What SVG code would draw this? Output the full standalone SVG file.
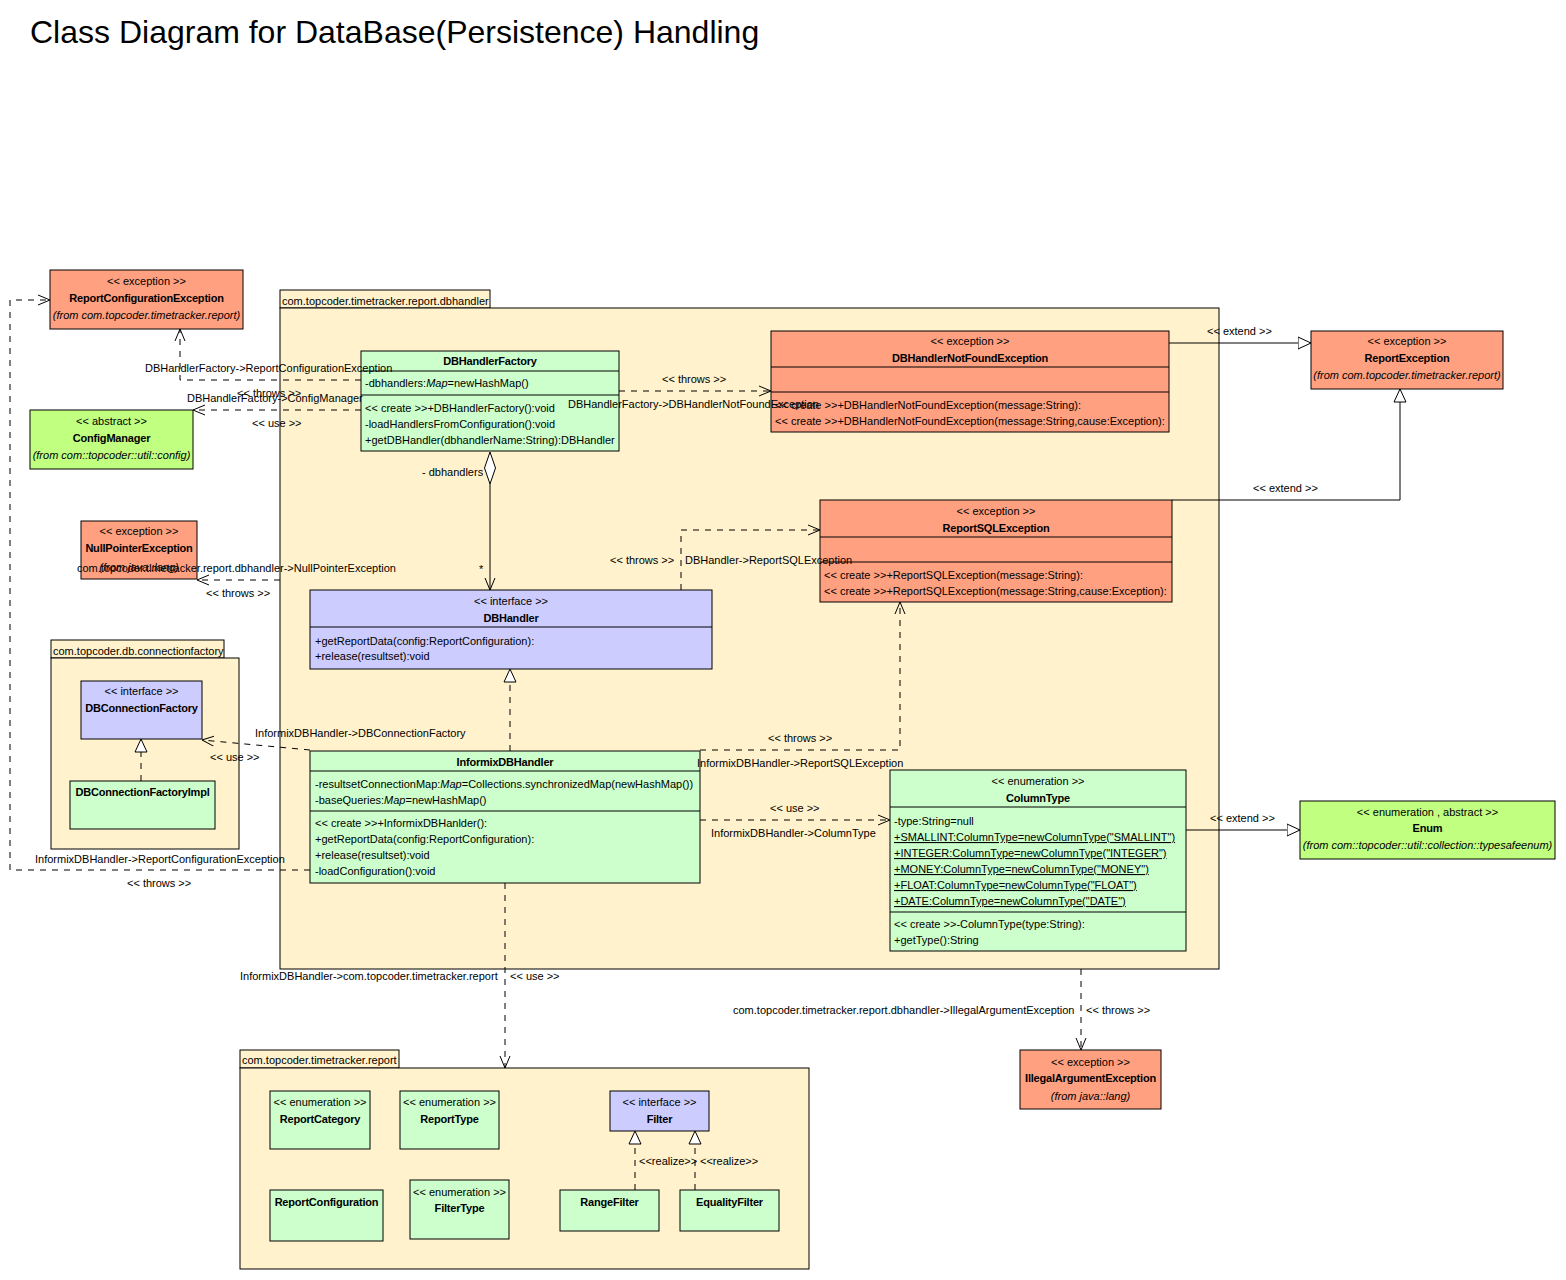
<svg xmlns="http://www.w3.org/2000/svg" width="1566" height="1280" viewBox="0 0 1566 1280">
<style>
text{font-family:"Liberation Sans",Arial,sans-serif;font-size:11px;fill:#000}
.t{font-size:32px}
.c{text-anchor:middle}
.b{font-weight:bold;letter-spacing:-0.2px}
.i{font-style:italic}
.u{text-decoration:underline}
.box{stroke:#000;stroke-width:1}
.exc{fill:#FFA080}
.abs{fill:#C0FF80}
.cls{fill:#CCFFCC}
.itf{fill:#CCCCFF}
.pkg{fill:#FFF2CC;stroke:#000;stroke-width:1}
.sep{stroke:#000;stroke-width:1}
.dep{fill:none;stroke:#000;stroke-width:1;stroke-dasharray:6,6;marker-end:url(#open)}
.rel{fill:none;stroke:#000;stroke-width:1;stroke-dasharray:6,6;marker-end:url(#tri)}
.gen{fill:none;stroke:#000;stroke-width:1;marker-end:url(#tri)}
.asc{fill:none;stroke:#000;stroke-width:1;marker-end:url(#open)}
</style>
<defs>
<marker id="open" viewBox="0 0 12 12" refX="12" refY="6" markerWidth="12" markerHeight="12" markerUnits="userSpaceOnUse" orient="auto"><path d="M0,1 L12,6 L0,11" fill="none" stroke="#000" stroke-width="1" stroke-dasharray="none"/></marker>
<marker id="tri" viewBox="0 0 14 14" refX="13.5" refY="7" markerWidth="14" markerHeight="14" markerUnits="userSpaceOnUse" orient="auto"><path d="M0.5,1 L13.5,7 L0.5,13 Z" fill="#fff" stroke="#000" stroke-width="1" stroke-dasharray="none"/></marker>
</defs>
<rect width="1566" height="1280" fill="#fff"/>
<text class="t" x="30" y="43">Class Diagram for DataBase(Persistence) Handling</text>

<g id="pkg-dbhandler">
<rect class="pkg" x="280" y="290" width="210" height="18"/>
<rect class="pkg" x="280" y="308" width="939" height="661"/>
<text x="282" y="305">com.topcoder.timetracker.report.dbhandler</text>
</g>
<g id="pkg-connectionfactory">
<rect class="pkg" x="51" y="640" width="173" height="18"/>
<rect class="pkg" x="51" y="658" width="188" height="191"/>
<text x="53" y="655">com.topcoder.db.connectionfactory</text>
</g>
<g id="pkg-report">
<rect class="pkg" x="240" y="1050" width="159" height="18"/>
<rect class="pkg" x="240" y="1068" width="569" height="201"/>
<text x="242" y="1064">com.topcoder.timetracker.report</text>
</g>

<g id="ReportConfigurationException">
<rect class="box exc" x="50" y="270" width="193" height="59"/>
<text class="c" x="146.5" y="285">&lt;&lt; exception &gt;&gt;</text>
<text class="c b" x="146.5" y="302">ReportConfigurationException</text>
<text class="c i" x="146.5" y="319">(from com.topcoder.timetracker.report)</text>
</g>
<g id="ConfigManager">
<rect class="box abs" x="30" y="410" width="163" height="59"/>
<text class="c" x="111.5" y="425">&lt;&lt; abstract &gt;&gt;</text>
<text class="c b" x="111.5" y="442">ConfigManager</text>
<text class="c i" x="111.5" y="459">(from com::topcoder::util::config)</text>
</g>
<g id="DBHandlerFactory">
<rect class="box cls" x="361" y="351" width="258" height="100"/>
<line class="sep" x1="361" y1="371" x2="619" y2="371"/>
<line class="sep" x1="361" y1="395" x2="619" y2="395"/>
<text class="c b" x="490" y="365">DBHandlerFactory</text>
<text x="365" y="387">-dbhandlers:<tspan class="i">Map</tspan>=newHashMap()</text>
<text x="365" y="412">&lt;&lt; create &gt;&gt;+DBHandlerFactory():void</text>
<text x="365" y="428">-loadHandlersFromConfiguration():void</text>
<text x="365" y="444">+getDBHandler(dbhandlerName:String):DBHandler</text>
</g>
<g id="DBHandlerNotFoundException">
<rect class="box exc" x="771" y="331" width="398" height="101"/>
<line class="sep" x1="771" y1="367" x2="1169" y2="367"/>
<line class="sep" x1="771" y1="392" x2="1169" y2="392"/>
<text class="c" x="970" y="345">&lt;&lt; exception &gt;&gt;</text>
<text class="c b" x="970" y="362">DBHandlerNotFoundException</text>
<text x="775" y="409">&lt;&lt; create &gt;&gt;+DBHandlerNotFoundException(message:String):</text>
<text x="775" y="425">&lt;&lt; create &gt;&gt;+DBHandlerNotFoundException(message:String,cause:Exception):</text>
</g>
<g id="ReportException">
<rect class="box exc" x="1311" y="331" width="192" height="58"/>
<text class="c" x="1407" y="345">&lt;&lt; exception &gt;&gt;</text>
<text class="c b" x="1407" y="362">ReportException</text>
<text class="c i" x="1407" y="379">(from com.topcoder.timetracker.report)</text>
</g>
<g id="ReportSQLException">
<rect class="box exc" x="820" y="500" width="352" height="102"/>
<line class="sep" x1="820" y1="537" x2="1172" y2="537"/>
<line class="sep" x1="820" y1="562" x2="1172" y2="562"/>
<text class="c" x="996" y="515">&lt;&lt; exception &gt;&gt;</text>
<text class="c b" x="996" y="532">ReportSQLException</text>
<text x="824" y="579">&lt;&lt; create &gt;&gt;+ReportSQLException(message:String):</text>
<text x="824" y="595">&lt;&lt; create &gt;&gt;+ReportSQLException(message:String,cause:Exception):</text>
</g>
<g id="NullPointerException">
<rect class="box exc" x="81" y="521" width="116" height="58"/>
<text class="c" x="139" y="535">&lt;&lt; exception &gt;&gt;</text>
<text class="c b" x="139" y="552">NullPointerException</text>
<text class="c i" x="139" y="571">(from java::lang)</text>
</g>
<g id="DBHandler">
<rect class="box itf" x="310" y="590" width="402" height="79"/>
<line class="sep" x1="310" y1="627" x2="712" y2="627"/>
<text class="c" x="511" y="605">&lt;&lt; interface &gt;&gt;</text>
<text class="c b" x="511" y="622">DBHandler</text>
<text x="315" y="645">+getReportData(config:ReportConfiguration):</text>
<text x="315" y="660">+release(resultset):void</text>
</g>
<g id="DBConnectionFactory">
<rect class="box itf" x="81" y="681" width="121" height="58"/>
<text class="c" x="141.5" y="695">&lt;&lt; interface &gt;&gt;</text>
<text class="c b" x="141.5" y="712">DBConnectionFactory</text>
</g>
<g id="DBConnectionFactoryImpl">
<rect class="box cls" x="70" y="781" width="145" height="48"/>
<text class="c b" x="142.5" y="796">DBConnectionFactoryImpl</text>
</g>
<g id="InformixDBHandler">
<rect class="box cls" x="310" y="751" width="390" height="132"/>
<line class="sep" x1="310" y1="771" x2="700" y2="771"/>
<line class="sep" x1="310" y1="811" x2="700" y2="811"/>
<text class="c b" x="505" y="766">InformixDBHandler</text>
<text x="315" y="788">-resultsetConnectionMap:<tspan class="i">Map</tspan>=Collections.synchronizedMap(newHashMap())</text>
<text x="315" y="804">-baseQueries:<tspan class="i">Map</tspan>=newHashMap()</text>
<text x="315" y="827">&lt;&lt; create &gt;&gt;+InformixDBHanlder():</text>
<text x="315" y="843">+getReportData(config:ReportConfiguration):</text>
<text x="315" y="859">+release(resultset):void</text>
<text x="315" y="875">-loadConfiguration():void</text>
</g>
<g id="ColumnType">
<rect class="box cls" x="890" y="770" width="296" height="181"/>
<line class="sep" x1="890" y1="807" x2="1186" y2="807"/>
<line class="sep" x1="890" y1="912" x2="1186" y2="912"/>
<text class="c" x="1038" y="785">&lt;&lt; enumeration &gt;&gt;</text>
<text class="c b" x="1038" y="802">ColumnType</text>
<text x="894" y="825">-type:String=null</text>
<text class="u" x="894" y="841">+SMALLINT:ColumnType=newColumnType("SMALLINT")</text>
<text class="u" x="894" y="857">+INTEGER:ColumnType=newColumnType("INTEGER")</text>
<text class="u" x="894" y="873">+MONEY:ColumnType=newColumnType("MONEY")</text>
<text class="u" x="894" y="889">+FLOAT:ColumnType=newColumnType("FLOAT")</text>
<text class="u" x="894" y="905">+DATE:ColumnType=newColumnType("DATE")</text>
<text x="894" y="928">&lt;&lt; create &gt;&gt;-ColumnType(type:String):</text>
<text x="894" y="944">+getType():String</text>
</g>
<g id="Enum">
<rect class="box abs" x="1300" y="801" width="255" height="58"/>
<text class="c" x="1427.5" y="816">&lt;&lt; enumeration , abstract &gt;&gt;</text>
<text class="c b" x="1427.5" y="832">Enum</text>
<text class="c i" x="1427.5" y="849">(from com::topcoder::util::collection::typesafeenum)</text>
</g>
<g id="IllegalArgumentException">
<rect class="box exc" x="1020" y="1050" width="141" height="59"/>
<text class="c" x="1090.5" y="1066">&lt;&lt; exception &gt;&gt;</text>
<text class="c b" x="1090.5" y="1082">IllegalArgumentException</text>
<text class="c i" x="1090.5" y="1100">(from java::lang)</text>
</g>
<g id="ReportCategory">
<rect class="box cls" x="270" y="1091" width="100" height="58"/>
<text class="c" x="320" y="1106">&lt;&lt; enumeration &gt;&gt;</text>
<text class="c b" x="320" y="1123">ReportCategory</text>
</g>
<g id="ReportType">
<rect class="box cls" x="400" y="1091" width="99" height="58"/>
<text class="c" x="449.5" y="1106">&lt;&lt; enumeration &gt;&gt;</text>
<text class="c b" x="449.5" y="1123">ReportType</text>
</g>
<g id="Filter">
<rect class="box itf" x="610" y="1091" width="99" height="40"/>
<text class="c" x="659.5" y="1106">&lt;&lt; interface &gt;&gt;</text>
<text class="c b" x="659.5" y="1123">Filter</text>
</g>
<g id="ReportConfiguration">
<rect class="box cls" x="270" y="1190" width="113" height="51"/>
<text class="c b" x="326.5" y="1206">ReportConfiguration</text>
</g>
<g id="FilterType">
<rect class="box cls" x="410" y="1180" width="99" height="59"/>
<text class="c" x="459.5" y="1196">&lt;&lt; enumeration &gt;&gt;</text>
<text class="c b" x="459.5" y="1212">FilterType</text>
</g>
<g id="RangeFilter">
<rect class="box cls" x="560" y="1190" width="99" height="41"/>
<text class="c b" x="609.5" y="1206">RangeFilter</text>
</g>
<g id="EqualityFilter">
<rect class="box cls" x="680" y="1190" width="99" height="41"/>
<text class="c b" x="729.5" y="1206">EqualityFilter</text>
</g>

<g id="connectors">
<path class="dep" d="M361,380 H180 V329"/>
<text x="145" y="372">DBHandlerFactory-&gt;ReportConfigurationException</text>
<text x="237" y="397">&lt;&lt; throws &gt;&gt;</text>
<path class="dep" d="M361,410 H193"/>
<text x="187" y="402">DBHandlerFactory-&gt;ConfigManager</text>
<text x="252" y="427">&lt;&lt; use &gt;&gt;</text>
<path class="dep" d="M619,391 H771"/>
<text x="662" y="383">&lt;&lt; throws &gt;&gt;</text>
<text x="568" y="408">DBHandlerFactory-&gt;DBHandlerNotFoundException</text>
<polygon points="490,452 495.5,468 490,484 484.5,468" fill="#fff" stroke="#000"/>
<path class="asc" d="M490,484 V590"/>
<text x="422" y="476">- dbhandlers</text>
<text x="479" y="573">*</text>
<path class="gen" d="M1169,343 H1311"/>
<text x="1207" y="335">&lt;&lt; extend &gt;&gt;</text>
<path class="gen" d="M1172,500 H1400 V389"/>
<text x="1253" y="492">&lt;&lt; extend &gt;&gt;</text>
<path class="dep" d="M681,590 V530 H820"/>
<text x="610" y="564">&lt;&lt; throws &gt;&gt;</text>
<text x="685" y="564">DBHandler-&gt;ReportSQLException</text>
<path class="dep" d="M280,580 H197"/>
<text x="77" y="572">com.topcoder.timetracker.report.dbhandler-&gt;NullPointerException</text>
<text x="206" y="597">&lt;&lt; throws &gt;&gt;</text>
<path class="dep" d="M310,750 L202,740"/>
<text x="255" y="737">InformixDBHandler-&gt;DBConnectionFactory</text>
<text x="210" y="761">&lt;&lt; use &gt;&gt;</text>
<path class="dep" d="M310,870 H10 V300 H50"/>
<text x="35" y="863">InformixDBHandler-&gt;ReportConfigurationException</text>
<text x="127" y="887">&lt;&lt; throws &gt;&gt;</text>
<path class="rel" d="M510,751 V669"/>
<path class="dep" d="M700,750 H900 V602"/>
<text x="768" y="742">&lt;&lt; throws &gt;&gt;</text>
<text x="697" y="767">InformixDBHandler-&gt;ReportSQLException</text>
<path class="dep" d="M700,820 H890"/>
<text x="770" y="812">&lt;&lt; use &gt;&gt;</text>
<text x="711" y="837">InformixDBHandler-&gt;ColumnType</text>
<path class="dep" d="M505,883 V1068"/>
<text x="240" y="980">InformixDBHandler-&gt;com.topcoder.timetracker.report</text>
<text x="510" y="980">&lt;&lt; use &gt;&gt;</text>
<path class="gen" d="M1186,830 H1300"/>
<text x="1210" y="822">&lt;&lt; extend &gt;&gt;</text>
<path class="dep" d="M1081,969 V1050"/>
<text x="733" y="1014">com.topcoder.timetracker.report.dbhandler-&gt;IllegalArgumentException</text>
<text x="1086" y="1014">&lt;&lt; throws &gt;&gt;</text>
<path class="rel" d="M141,781 V739"/>
<path class="rel" d="M635,1190 V1131"/>
<path class="rel" d="M695,1190 V1131"/>
<text x="639" y="1165">&lt;&lt;realize&gt;&gt;</text>
<text x="700" y="1165">&lt;&lt;realize&gt;&gt;</text>
</g>
</svg>
